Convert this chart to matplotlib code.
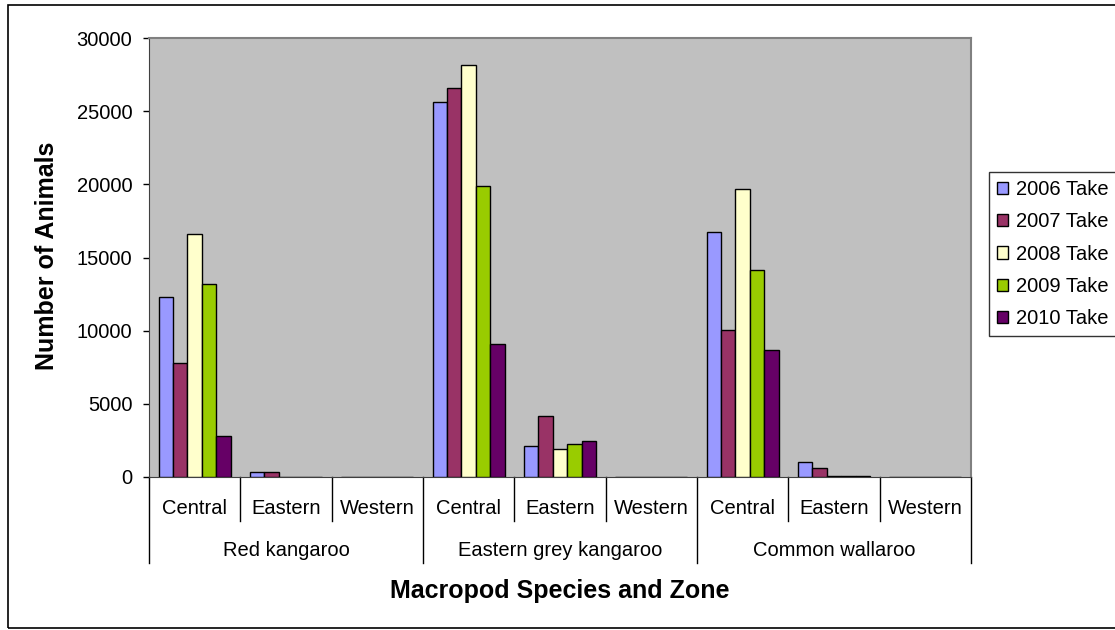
"""Macropod take by species and zone, 2006-2010."""

import matplotlib.pyplot as plt
import numpy as np
from matplotlib.patches import Rectangle
from matplotlib.transforms import blended_transform_factory

plt.rcParams["font.family"] = ["Liberation Sans", "DejaVu Sans"]

species = ["Red kangaroo", "Eastern grey kangaroo", "Common wallaroo"]
zones = ["Central", "Eastern", "Western"]
years = ["2006 Take", "2007 Take", "2008 Take", "2009 Take", "2010 Take"]

# one list per year, ordered species-major then zone (Central, Eastern, Western)
take_2006 = [12320, 320, 0, 25610, 2120, 0, 16750, 1030, 0]
take_2007 = [7770, 320, 0, 26590, 4150, 0, 10070, 640, 0]
take_2008 = [16610, 0, 0, 28180, 1890, 0, 19660, 100, 0]
take_2009 = [13170, 0, 0, 19890, 2230, 0, 14170, 100, 0]
take_2010 = [2800, 0, 0, 9110, 2430, 0, 8680, 100, 0]

colors = ["#9999FF", "#993366", "#FFFFCC", "#99CC00", "#660066"]

W, H = 1115, 630
fig = plt.figure(figsize=(W / 100, H / 100), dpi=100)
ax = fig.add_axes([149 / W, 1 - 477 / H, (971 - 149) / W, (477 - 38) / H])
ax.set_facecolor("#C0C0C0")

series = [take_2006, take_2007, take_2008, take_2009, take_2010]
x = np.arange(len(take_2006))
bw = 0.158
for i, (vals, col, lab) in enumerate(zip(series, colors, years)):
    ax.bar(x + (i - 2) * bw, vals, width=bw, color=col, edgecolor="black",
           linewidth=1.0, label=lab, zorder=3)

ax.set_xlim(-0.5, len(x) - 0.5)
ax.set_ylim(0, 30000)
ax.set_yticks(np.arange(0, 30001, 5000))
ax.tick_params(axis="y", labelsize=14.5, length=4, width=1, pad=8, direction="out")
ax.set_xticks([])

for side in ["top", "right"]:
    ax.spines[side].set_color("#808080")
    ax.spines[side].set_linewidth(1.5)
ax.spines["left"].set_color("#404040")
ax.spines["bottom"].set_color("#404040")

# two-level category axis below the plot
trans = blended_transform_factory(ax.transData, ax.transAxes)
for k in range(len(x) + 1):
    xpos = k - 0.5
    long_line = k % 3 == 0
    y_end = -0.196 if long_line else -0.100
    ax.plot([xpos, xpos], [0, y_end], color="black", lw=1.0,
            transform=trans, clip_on=False)

for k in range(len(x)):
    ax.text(k, -0.072, zones[k % 3], transform=trans, ha="center",
            va="center", fontsize=14.5)
for s, name in enumerate(species):
    ax.text(3 * s + 1, -0.168, name, transform=trans, ha="center",
            va="center", fontsize=14.5)

fig.text(560 / W, 1 - 591 / H, "Macropod Species and Zone", ha="center",
         va="center", fontsize=18, fontweight="bold")
fig.text(47 / W, 1 - 256 / H, "Number of Animals", ha="center", va="center",
         rotation=90, fontsize=18, fontweight="bold")

leg = ax.legend(loc="upper left", bbox_to_anchor=(989 / W, 1 - 172 / H),
                bbox_transform=fig.transFigure, fontsize=14.5, frameon=True,
                fancybox=False, handlelength=0.55, handleheight=0.55,
                handletextpad=0.4, labelspacing=0.66, borderpad=0.4,
                borderaxespad=0)
leg.get_frame().set_edgecolor("black")
leg.get_frame().set_linewidth(1.0)

# outer chart border
fig.patches.append(Rectangle((7.5 / W, 1 - 628 / H), 1.2, (628 - 5) / H,
                             transform=fig.transFigure, fill=False,
                             edgecolor="black", lw=1.2))

fig.savefig("out.png", dpi=100)
